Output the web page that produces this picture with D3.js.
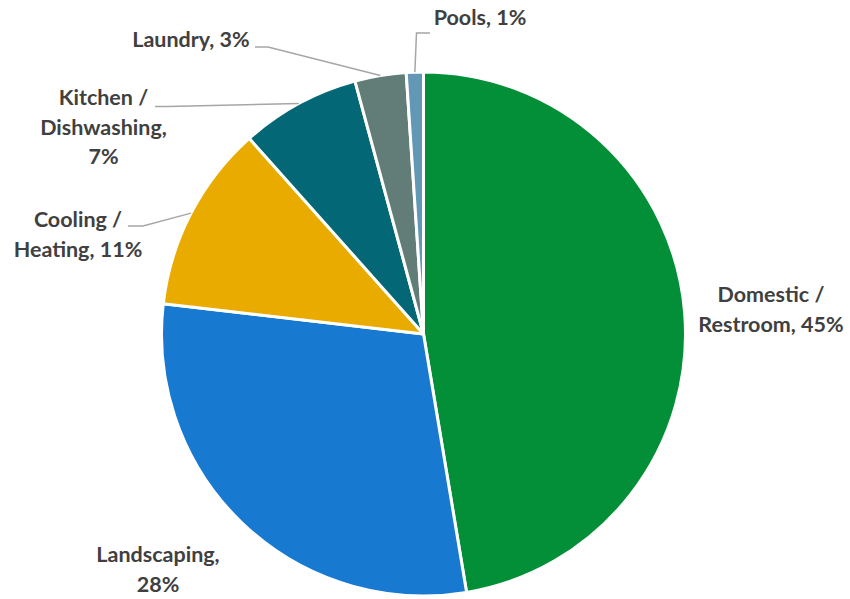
<!DOCTYPE html>
<html>
<head>
<meta charset="utf-8">
<script src="https://cdn.jsdelivr.net/npm/d3@7"></script>
<style>
  html, body { margin: 0; padding: 0; background: #ffffff; }
  svg { display: block; }
  .lbl { font-family: Lato, "Open Sans", sans-serif; font-weight: 700; fill: #404040; }
</style>
</head>
<body>
<script>
// Water use by end use, share of total
const categories = ["Domestic / Restroom", "Landscaping", "Cooling / Heating", "Kitchen / Dishwashing", "Laundry", "Pools"];
const values = [45, 28, 11, 7, 3, 1];
const colors = ["#038f37", "#177ad0", "#e9ab00", "#036775", "#627c77", "#6297b5"];
// label text, split into lines as drawn
const labelLines = [
  ["Domestic /", "Restroom, 45%"],
  ["Landscaping,", "28%"],
  ["Cooling /", "Heating, 11%"],
  ["Kitchen /", "Dishwashing,", "7%"],
  ["Laundry, 3%"],
  ["Pools, 1%"]
];

const W = 850, H = 599;
const cx = 423.5, cy = 334, R = 262;

const svg = d3.select("body").append("svg").attr("width", W).attr("height", H);

const pie = d3.pie().sort(null).value(d => d.value);
const arcs = pie(categories.map((c, i) => ({ name: c, value: values[i], color: colors[i], lines: labelLines[i] })));
const arc = d3.arc().innerRadius(0).outerRadius(R);

const g = svg.append("g").attr("transform", `translate(${cx},${cy})`);
g.selectAll("path.slice")
  .data(arcs)
  .join("path")
  .attr("class", "slice")
  .attr("d", arc)
  .attr("fill", d => d.data.color)
  .attr("stroke", "#ffffff")
  .attr("stroke-width", 3)
  .attr("stroke-linejoin", "round");

// label placement: text centre x, first baseline y, and leader elbow/end (page coords)
const place = {
  "Domestic / Restroom": { x: 771, y: 302, leader: null },
  "Landscaping":         { x: 158, y: 562, leader: null },
  "Cooling / Heating":   { x: 78,  y: 227, leader: [[143, 226], [128, 226]] },
  "Kitchen / Dishwashing": { x: 103.5, y: 105, leader: [[168, 106.5], [155, 106.5]] },
  "Laundry":             { x: 191, y: 47, leader: [[268, 47], [255, 47]] },
  "Pools":               { x: 480, y: 25, leader: [[416.5, 33], [430, 33]] }
};
const lineGap = 29.5;

// leader lines start on the rim at each slice's mid-angle
const outerPt = d => {
  const a = (d.startAngle + d.endAngle) / 2;
  return [cx + R * Math.sin(a), cy - R * Math.cos(a)];
};

svg.selectAll("path.leader")
  .data(arcs.filter(d => place[d.data.name].leader))
  .join("path")
  .attr("class", "leader")
  .attr("d", d => d3.line()([outerPt(d), ...place[d.data.name].leader]))
  .attr("fill", "none")
  .attr("stroke", "#a6a6a6")
  .attr("stroke-width", 1.5);

const labels = svg.selectAll("text.lbl")
  .data(arcs)
  .join("text")
  .attr("class", "lbl")
  .attr("text-anchor", "middle")
  .attr("font-size", 21.5);

labels.selectAll("tspan")
  .data(d => d.data.lines.map((t, i) => ({ t, i, p: place[d.data.name] })))
  .join("tspan")
  .attr("x", d => d.p.x)
  .attr("y", d => d.p.y + d.i * lineGap)
  .text(d => d.t);
</script>
</body>
</html>
